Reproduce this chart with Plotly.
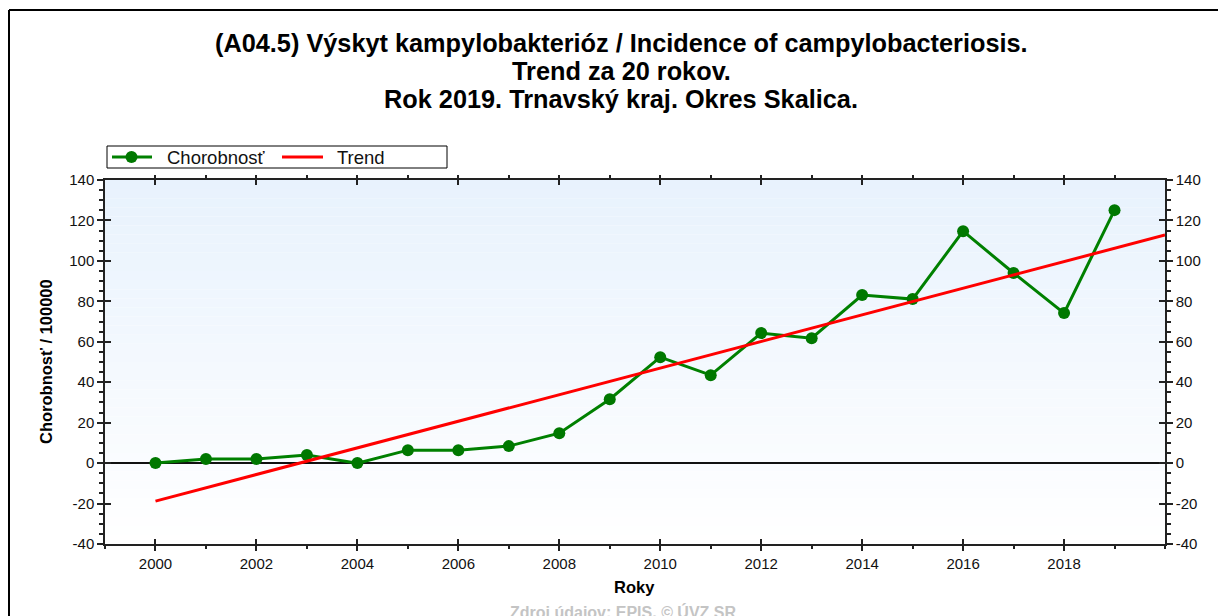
import plotly.graph_objects as go

years = [2000, 2001, 2002, 2003, 2004, 2005, 2006, 2007, 2008, 2009,
         2010, 2011, 2012, 2013, 2014, 2015, 2016, 2017, 2018, 2019]
incidence = [0.0, 2.0, 2.0, 4.0, 0.0, 6.4, 6.4, 8.4, 14.8, 31.6,
             52.4, 43.5, 64.3, 61.8, 83.1, 81.1, 114.7, 94.0, 74.2, 125.1]
trend_x = [2000, 2020]
trend_y = [-18.8, 112.8]
x_tick_vals = [2000, 2002, 2004, 2006, 2008, 2010, 2012, 2014, 2016, 2018]
x_tick_text = ["2000", "2002", "2004", "2006", "2008", "2010", "2012", "2014", "2016", "2018"]
y_tick_vals = [-40, -20, 0, 20, 40, 60, 80, 100, 120, 140]
y_tick_text = ["-40", "-20", "0", "20", "40", "60", "80", "100", "120", "140"]

title_lines = ["(A04.5) Výskyt kampylobakterióz / Incidence of campylobacteriosis.",
               "Trend za 20 rokov.",
               "Rok 2019. Trnavský kraj. Okres Skalica."]
series_names = ["Chorobnosť", "Trend"]
y_title = "Chorobnosť / 100000"
x_title = "Roky"
source = "Zdroj údajov: EPIS, © ÚVZ SR"

GREEN = "#008000"
RED = "#ff0000"

OFF = 8  # page body margin
W, H = 1226, 616
L, R, T, B = 105, 1165, 180, 544   # plot area in page pixels
pw, ph = R - L, B - T

def px(xp):
    return (xp - L) / pw

def py(yp):
    return (B - yp) / ph

FONT = "Liberation Sans, Arial, sans-serif"

fig = go.Figure()
fig.add_trace(go.Scatter(x=years, y=incidence, name=series_names[0], mode="lines+markers",
                         line=dict(color=GREEN, width=3),
                         marker=dict(color="#007800", size=12, symbol="circle"),
                         showlegend=False))
fig.add_trace(go.Scatter(x=trend_x, y=trend_y, name=series_names[1], mode="lines",
                         line=dict(color=RED, width=3), showlegend=False))
# invisible helper traces so overlay axes are drawn
fig.add_trace(go.Scatter(x=trend_x, y=trend_y, xaxis="x2", yaxis="y2", mode="lines",
                         line=dict(width=0), opacity=0, showlegend=False, hoverinfo="skip"))
fig.add_trace(go.Scatter(x=trend_x, y=trend_y, xaxis="x2", yaxis="y3", mode="lines",
                         line=dict(width=0), opacity=0, showlegend=False, hoverinfo="skip"))

shapes = []
# gradient background
n = 40
top = (232, 242, 253)
bot = (255, 255, 255)
for i in range(n):
    f = i / (n - 1)
    c = tuple(round(top[k] + (bot[k] - top[k]) * f) for k in range(3))
    shapes.append(dict(type="rect", xref="x domain", yref="y domain",
                       x0=0, x1=1, y0=1 - (i + 1) / n, y1=1 - i / n,
                       fillcolor="rgb(%d,%d,%d)" % c, line=dict(width=0), layer="below"))
# outer frame (top and left edges visible)
shapes.append(dict(type="line", xref="paper", yref="paper",
                   x0=px(9), x1=px(1240), y0=py(10), y1=py(10),
                   line=dict(color="black", width=2)))
shapes.append(dict(type="line", xref="paper", yref="paper",
                   x0=px(9), x1=px(9), y0=py(10), y1=py(640),
                   line=dict(color="black", width=2)))
# legend box
shapes.append(dict(type="rect", xref="paper", yref="paper",
                   x0=px(107), x1=px(447), y0=py(168), y1=py(146),
                   line=dict(color="black", width=1), fillcolor="white"))
ly = py(157)
shapes.append(dict(type="line", xref="paper", yref="paper", x0=px(112), x1=px(152),
                   y0=ly, y1=ly, line=dict(color=GREEN, width=3)))
shapes.append(dict(type="circle", xref="paper", yref="paper", xsizemode="pixel",
                   ysizemode="pixel", xanchor=px(131.5), yanchor=ly,
                   x0=-6, x1=6, y0=-6, y1=6, fillcolor="#007800", line=dict(width=0)))
shapes.append(dict(type="line", xref="paper", yref="paper", x0=px(282), x1=px(323),
                   y0=ly, y1=ly, line=dict(color=RED, width=3)))

xr = [1999, 2020]
yr = [-40, 140]
tickfont = dict(family=FONT, size=15, color="#111111")

common_x = dict(range=xr, tickmode="array", tickvals=x_tick_vals, ticktext=x_tick_text,
                showgrid=False, zeroline=False,
                ticklen=5, tickwidth=1.5, tickcolor="#222",
                minor=dict(tickmode="linear", tick0=1999, dtick=1, ticklen=3, tickwidth=1.5,
                           tickcolor="#222", showgrid=False))
common_y = dict(range=yr, tickmode="array", tickvals=y_tick_vals, ticktext=y_tick_text,
                showgrid=False, ticklen=6, tickwidth=1.5, tickcolor="#222",
                minor=dict(tickmode="linear", tick0=0, dtick=5, ticklen=4, tickwidth=1.5,
                           tickcolor="#222", showgrid=False))

annotations = []
for i, line in enumerate(title_lines):
    annotations.append(dict(text="<b>%s</b>" % line, xref="paper", yref="paper",
                            x=px(621), y=py(43 + 28 * i), xanchor="center", yanchor="middle",
                            showarrow=False,
                            font=dict(family=FONT, size=25.3, color="black")))
annotations += [
    dict(text=series_names[0], xref="paper", yref="paper", x=px(165), y=ly,
         xanchor="left", yanchor="middle", showarrow=False,
         font=dict(family=FONT, size=18.5, color="#111")),
    dict(text=series_names[1], xref="paper", yref="paper", x=px(335), y=ly,
         xanchor="left", yanchor="middle", showarrow=False,
         font=dict(family=FONT, size=18.5, color="#111")),
    dict(text="<b>%s</b>" % y_title, xref="paper", yref="paper", x=px(46), y=py(362),
         xanchor="center", yanchor="middle", textangle=-90, showarrow=False,
         font=dict(family=FONT, size=16.5, color="black")),
    dict(text="<b>%s</b>" % x_title, xref="paper", yref="paper", x=px(634), y=py(587),
         xanchor="center", yanchor="middle", showarrow=False,
         font=dict(family=FONT, size=16.5, color="black")),
    dict(text="<b>%s</b>" % source, xref="paper", yref="paper", x=px(623), y=py(601),
         xanchor="center", yanchor="top", showarrow=False,
         font=dict(family=FONT, size=16, color="#c4c4c4")),
]

fig.update_layout(
    width=W - OFF, height=H - OFF,
    margin=dict(l=L - OFF, r=W - R, t=T - OFF, b=H - B, pad=0),
    paper_bgcolor="white", plot_bgcolor="white",
    font=dict(family=FONT, color="black"),
    xaxis=dict(**common_x, ticks="outside", showline=True, linecolor="#222", linewidth=1.5,
               tickfont=tickfont),
    xaxis2=dict(**common_x, overlaying="x", side="bottom", ticks="inside", showline=True,
                linecolor="#222", linewidth=1.5, mirror="ticks", showticklabels=False),
    yaxis=dict(**common_y, ticks="outside", showline=True, linecolor="#222", linewidth=1.5,
               zeroline=True, zerolinecolor="#111", zerolinewidth=1.5, tickfont=tickfont),
    yaxis2=dict(**common_y, overlaying="y", side="right", anchor="x", ticks="outside",
                showline=True, linecolor="#222", linewidth=1.5, zeroline=False, tickfont=tickfont),
    yaxis3=dict(**common_y, overlaying="y", side="left", anchor="x", ticks="inside",
                showline=True, linecolor="#222", linewidth=1.5, mirror="ticks",
                zeroline=False, showticklabels=False),
    showlegend=False,
    shapes=shapes,
    annotations=annotations,
)

fig.write_html("out.html")
